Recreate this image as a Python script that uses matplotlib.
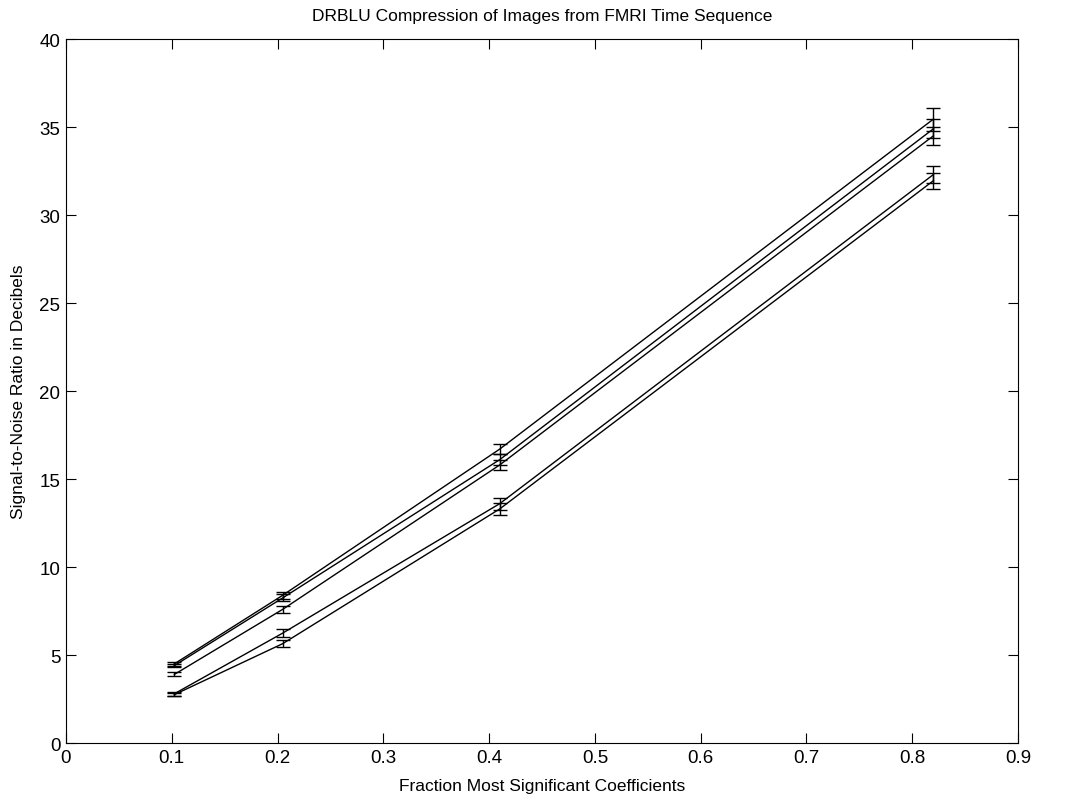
import matplotlib
matplotlib.use("Agg")
import matplotlib.pyplot as plt

fractions = [0.1025, 0.205, 0.41, 0.82]

snr_1 = [4.50, 8.40, 16.70, 35.45]
snr_2 = [4.40, 8.25, 16.10, 34.90]
snr_3 = [3.90, 7.60, 15.80, 34.50]
snr_4 = [2.80, 6.25, 13.60, 32.30]
snr_5 = [2.75, 5.65, 13.30, 31.95]

err_1 = [0.10, 0.20, 0.30, 0.65]
err_2 = [0.10, 0.20, 0.30, 0.55]
err_3 = [0.12, 0.20, 0.30, 0.50]
err_4 = [0.10, 0.22, 0.35, 0.50]
err_5 = [0.10, 0.22, 0.35, 0.45]

x_ticks = [0, 0.1, 0.2, 0.3, 0.4, 0.5, 0.6, 0.7, 0.8, 0.9]
x_tick_labels = ["0", "0.1", "0.2", "0.3", "0.4", "0.5", "0.6", "0.7", "0.8", "0.9"]
y_ticks = [0, 5, 10, 15, 20, 25, 30, 35, 40]

plt.rcParams["font.family"] = ["Liberation Sans", "DejaVu Sans"]

fig = plt.figure(figsize=(10.66, 8.04), dpi=100)
ax = fig.add_axes([0.0619, 0.0746, 0.8931, 0.8756])

for snr, err in [(snr_1, err_1), (snr_2, err_2), (snr_3, err_3),
                 (snr_4, err_4), (snr_5, err_5)]:
    ax.errorbar(fractions, snr, yerr=err, color="black", linewidth=1.0,
                elinewidth=1.0, capsize=5.3, capthick=1.0)

ax.set_xlim(0, 0.9)
ax.set_ylim(0, 40)
ax.set_xticks(x_ticks)
ax.set_xticklabels(x_tick_labels)
ax.set_yticks(y_ticks)
ax.tick_params(direction="in", top=True, right=True, length=7,
               labelsize=13.5, width=0.8, pad=4)
for spine in ax.spines.values():
    spine.set_linewidth(0.8)

ax.set_title("DRBLU Compression of Images from FMRI Time Sequence",
             fontsize=12.5, pad=14)
ax.set_xlabel("Fraction Most Significant Coefficients", fontsize=12.5,
              labelpad=9)
ax.set_ylabel("Signal-to-Noise Ratio in Decibels", fontsize=12.5,
              labelpad=10)

fig.savefig("out.png", dpi=100)
